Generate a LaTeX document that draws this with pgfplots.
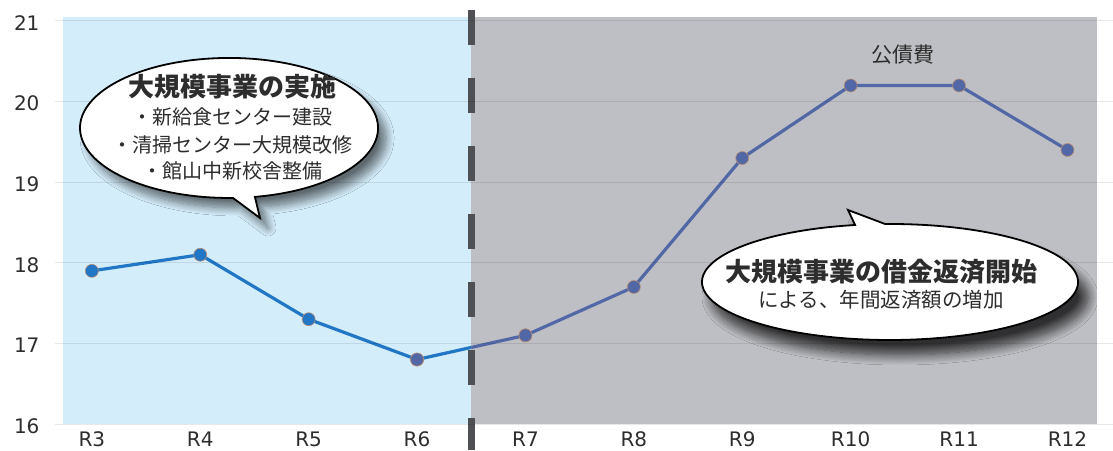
\documentclass[border=0pt]{standalone}
\usepackage{fontspec}
\setmainfont{Noto Sans CJK JP}
\newfontfamily\tickfont{DejaVu Sans}
\usepackage{pgfplots}
\pgfplotsset{compat=1.18}
\usetikzlibrary{shadows.blur}

\definecolor{leftbg}{RGB}{212,237,250}
\definecolor{rightbg}{RGB}{190,191,196}
\definecolor{lineA}{RGB}{33,118,198}
\definecolor{lineB}{RGB}{82,104,166}
\definecolor{mk}{RGB}{185,140,115}
\definecolor{divider}{RGB}{78,80,84}
\definecolor{txt}{RGB}{45,45,45}

\begin{document}
\begin{tikzpicture}
\begin{axis}[
    scale only axis,
    width=1058pt, height=403pt,
    xmin=-0.34, xmax=9.42,
    ymin=16, ymax=21,
    clip=false,
    axis on top,
    axis line style={draw=none},
    major tick length=0pt,
    xtick={0,...,9},
    xticklabels={R3,R4,R5,R6,R7,R8,R9,R10,R11,R12},
    ytick={16,...,21},
    ymajorgrids,
    major grid style={black, opacity=0.09, line width=1pt},
    tick label style={text=txt, font=\tickfont\fontsize{20}{22}\selectfont},
    yticklabel style={/pgf/number format/assume math mode=true, xshift=-12pt, yshift=-2pt},
    xticklabel style={yshift=-4pt},
]
% background zones
\fill[leftbg] (axis cs:-0.27,16) rectangle (axis cs:3.5,21.05);
\fill[rightbg] (axis cs:3.5,16) rectangle (axis cs:9.27,21.05);
% divider
\draw[divider, line width=7pt, dash pattern=on 35pt off 33pt]
    (axis cs:3.5,21.14) -- (axis cs:3.5,15.68);

% series left of the divider
\begin{scope}
\clip (axis cs:-1,15) rectangle (axis cs:3.5,22);
\addplot[lineA, line width=3.2pt, mark=*, mark size=6.5pt,
    mark options={fill=lineA, draw=mk, line width=0.6pt}]
    coordinates {(0,17.9) (1,18.1) (2,17.3) (3,16.8) (4,17.1)};
\end{scope}
% series right of the divider
\begin{scope}
\clip (axis cs:3.5,15) rectangle (axis cs:10,22);
\addplot[lineB, line width=3.2pt, mark=*, mark size=6.5pt,
    mark options={fill=lineB, draw=mk, line width=0.6pt}]
    coordinates {(3,16.8) (4,17.1) (5,17.7) (6,19.3) (7,20.2) (8,20.2) (9,19.4)};
\end{scope}
\end{axis}

\begin{scope}[shift={(current axis.south west)}, x=1pt, y=1pt]
% bubble 1
\filldraw[fill=white, draw=black, line width=1.8pt,
    blur shadow={shadow xshift=8pt, shadow yshift=-10pt, shadow blur radius=8pt, shadow blur steps=12, shadow opacity=55}]
    (199.9,227.1) arc[start angle=280, end angle=631.5, x radius=149, y radius=70]
    -- (205,206) -- cycle;
\node[text=txt, font=\bfseries\fontsize{26}{26}\selectfont] at (177,337) {大規模事業の実施};
\node[text=txt, font=\fontsize{20}{20}\selectfont] at (177,307) {・新給食センター建設};
\node[text=txt, font=\fontsize{20}{20}\selectfont] at (177,279) {・清掃センター大規模改修};
\node[text=txt, font=\fontsize{20}{20}\selectfont] at (177,253) {・館山中新校舎整備};
% bubble 2
\filldraw[fill=white, draw=black, line width=1.8pt,
    blur shadow={shadow xshift=10pt, shadow yshift=-15pt, shadow blur radius=10pt, shadow blur steps=12, shadow opacity=75}]
    (800.1,199.0) arc[start angle=100.7, end angle=451.5, x radius=188, y radius=58]
    -- (793,214) -- cycle;
\node[text=txt, font=\bfseries\fontsize{26}{26}\selectfont] at (826,152) {大規模事業の借金返済開始};
\node[text=txt, font=\fontsize{20.5}{20.5}\selectfont] at (826,124) {による、年間返済額の増加};
% series name
\node[text=txt, font=\fontsize{21}{21}\selectfont] at (848,369) {公債費};
% page frame
\pgfresetboundingbox
\path[use as bounding box] (-55,-26) rectangle (1058,424);
\end{scope}
\end{tikzpicture}
\end{document}
